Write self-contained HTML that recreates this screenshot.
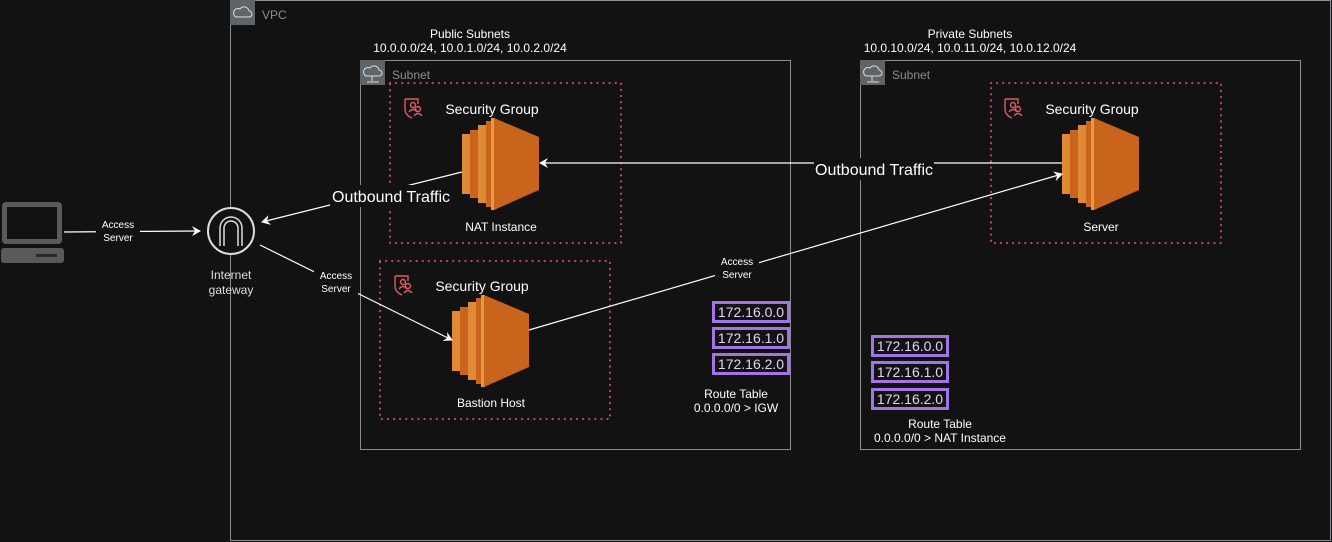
<!DOCTYPE html>
<html><head><meta charset="utf-8"><style>
body{margin:0;background:#121212;}
svg{display:block;font-family:"Liberation Sans",sans-serif;}
</style></head><body>
<svg width="1332" height="542" viewBox="0 0 1332 542" xmlns="http://www.w3.org/2000/svg">
<defs>
<g id="ec2">
<rect x="0" y="16" width="9" height="60" fill="#e08a35"/>
<rect x="8" y="12" width="9" height="68" fill="#c8641c"/>
<rect x="16" y="7" width="9" height="78" fill="#e08a35"/>
<rect x="24" y="3" width="8" height="86" fill="#c8641c"/>
<rect x="29" y="0" width="4" height="92" fill="#e8983f"/>
<polygon points="32,0 77,19 77,72 32,92" fill="#c8641c"/>
</g>
<g id="sg" fill="none" stroke="#e05a6a" stroke-width="1.4">
<path d="M2,2 h13 v5 M2,2 v10 q0,6 7,9"/>
<circle cx="10" cy="8" r="2.5"/>
<path d="M6,15 q4,-5 8,0"/>
<circle cx="15" cy="12" r="2.5"/>
<path d="M11,19 q4,-5 8,0"/>
</g>
<marker id="ah" markerWidth="10" markerHeight="10" refX="8" refY="5" orient="auto" markerUnits="userSpaceOnUse"><path d="M0,0 L9,5 L0,10 L3,5 Z" fill="#fff"/></marker>
</defs>
<rect width="1332" height="542" fill="#121212"/>
<rect x="230.5" y="0.5" width="1100" height="540" fill="none" stroke="#8a8d91"/>
<rect x="230" y="0" width="25" height="25" fill="#5f6468"/>
<path d="M236,17 h13 a3,3 0 0 0 0,-6 a5,5 0 0 0 -9,-2 a3,3 0 0 0 -4,8z" fill="none" stroke="#ddd" stroke-width="1"/>
<text x="262" y="19" font-size="12" fill="#8a8d91">VPC</text>
<rect x="360.5" y="60.5" width="430" height="389" fill="none" stroke="#8a8d91"/>
<rect x="360" y="60" width="25" height="25" fill="#5f6468"/>
<path d="M366,76 h13 a3,3 0 0 0 0,-6 a5,5 0 0 0 -9,-2 a3,3 0 0 0 -4,8z M372,76 v5 M367,82 h12" fill="none" stroke="#ddd" stroke-width="1"/>
<text x="392" y="79" font-size="12" fill="#8a8d91">Subnet</text>
<rect x="860.5" y="60.5" width="440" height="389" fill="none" stroke="#8a8d91"/>
<rect x="860" y="60" width="25" height="25" fill="#5f6468"/>
<path d="M866,76 h13 a3,3 0 0 0 0,-6 a5,5 0 0 0 -9,-2 a3,3 0 0 0 -4,8z M872,76 v5 M867,82 h12" fill="none" stroke="#ddd" stroke-width="1"/>
<text x="892" y="79" font-size="12" fill="#8a8d91">Subnet</text>
<text x="470" y="38" font-size="12" fill="#fff" text-anchor="middle">Public Subnets</text>
<text x="470" y="52" font-size="12" fill="#fff" text-anchor="middle">10.0.0.0/24, 10.0.1.0/24, 10.0.2.0/24</text>
<text x="970" y="38" font-size="12" fill="#fff" text-anchor="middle">Private Subnets</text>
<text x="970" y="52" font-size="12" fill="#fff" text-anchor="middle">10.0.10.0/24, 10.0.11.0/24, 10.0.12.0/24</text>
<g fill="none" stroke="#c0485a" stroke-width="2.2" stroke-dasharray="0.1 6" stroke-linecap="round">
<rect x="390" y="83" width="231" height="160"/>
<rect x="380" y="261" width="230" height="158"/>
<rect x="991" y="83" width="230" height="160"/>
</g>
<use href="#sg" x="403" y="97"/>
<use href="#sg" x="393" y="274"/>
<use href="#sg" x="1003" y="97"/>
<g font-size="14" fill="#fff" text-anchor="middle">
<text x="492" y="114">Security Group</text>
<text x="482" y="291">Security Group</text>
<text x="1092" y="114">Security Group</text>
</g>
<use href="#ec2" x="462" y="118"/>
<use href="#ec2" x="452" y="295"/>
<use href="#ec2" x="1062" y="118"/>
<g font-size="12" fill="#fff" text-anchor="middle">
<text x="501" y="231">NAT Instance</text>
<text x="491" y="407">Bastion Host</text>
<text x="1101" y="231">Server</text>
</g>
<rect x="2" y="202" width="60" height="42" rx="4" fill="#5a5a5a"/>
<rect x="7" y="207" width="50" height="32" fill="#121212"/>
<rect x="1" y="248" width="63" height="15" rx="3" fill="#5a5a5a"/>
<rect x="36" y="254" width="21" height="3" fill="#2a2a2a"/>
<circle cx="231" cy="231" r="23" fill="#121212" stroke="#ddd" stroke-width="2"/>
<path d="M220,246 v-18 a11,11 0 0 1 22,0 v18 M224,246 v-18 a7,7 0 0 1 14,0 v18" fill="none" stroke="#ddd" stroke-width="1.5"/>
<text x="231" y="279" font-size="12" fill="#ddd" text-anchor="middle">Internet</text>
<text x="231" y="294" font-size="12" fill="#ddd" text-anchor="middle">gateway</text>
<g stroke="#fff" stroke-width="1.2" fill="none">
<line x1="64" y1="232" x2="200" y2="231" marker-end="url(#ah)"/>
<line x1="462" y1="172" x2="262" y2="222" marker-end="url(#ah)"/>
<line x1="1062" y1="163" x2="540" y2="163" marker-end="url(#ah)"/>
<line x1="260" y1="245" x2="452" y2="340" marker-end="url(#ah)"/>
<line x1="529" y1="330" x2="1062" y2="174" marker-end="url(#ah)"/>
</g>
<g font-size="10" fill="#fff" text-anchor="middle">
<rect x="96" y="217" width="44" height="28" fill="#121212"/>
<text x="118" y="228">Access</text><text x="118" y="241">Server</text>
<rect x="314" y="268" width="44" height="28" fill="#121212"/>
<text x="336" y="279">Access</text><text x="336" y="292">Server</text>
<rect x="715" y="255" width="44" height="28" fill="#121212"/>
<text x="737" y="265">Access</text><text x="737" y="278">Server</text>
</g>
<g font-size="16" fill="#fff" text-anchor="middle">
<rect x="330" y="185" width="122" height="22" fill="#121212"/>
<text x="391" y="202">Outbound Traffic</text>
<rect x="814" y="158" width="120" height="22" fill="#121212"/>
<text x="874" y="175">Outbound Traffic</text>
</g>
<g fill="#121212" stroke="#a374e6" stroke-width="3">
<rect x="713.5" y="302.5" width="75" height="19"/>
<rect x="713.5" y="328.5" width="75" height="19"/>
<rect x="713.5" y="354.5" width="75" height="19"/>
<rect x="872.5" y="336.5" width="75" height="19"/>
<rect x="872.5" y="362.5" width="75" height="19"/>
<rect x="872.5" y="389.5" width="75" height="19"/>
</g>
<g font-size="14" fill="#e0d4f5" text-anchor="middle">
<text x="751" y="317">172.16.0.0</text>
<text x="751" y="343">172.16.1.0</text>
<text x="751" y="369">172.16.2.0</text>
<text x="910" y="351">172.16.0.0</text>
<text x="910" y="377">172.16.1.0</text>
<text x="910" y="404">172.16.2.0</text>
</g>
<g font-size="12" fill="#fff" text-anchor="middle">
<text x="736" y="398">Route Table</text>
<text x="736" y="412">0.0.0.0/0 &gt; IGW</text>
<text x="940" y="428">Route Table</text>
<text x="940" y="442">0.0.0.0/0 &gt; NAT Instance</text>
</g>
</svg>
</body></html>
